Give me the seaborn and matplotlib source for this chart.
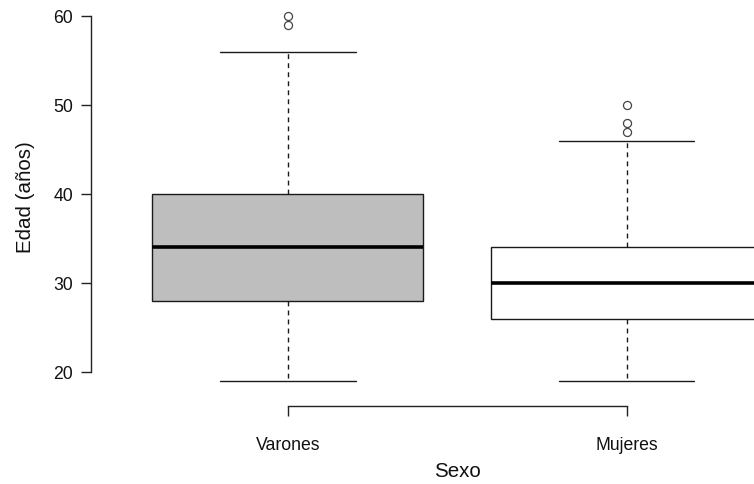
import matplotlib
matplotlib.use("Agg")
import matplotlib.pyplot as plt
import seaborn as sns
import pandas as pd

# Ages (years) by sex
categories = ["Varones", "Mujeres"]
edad_varones = [19, 22, 25, 28, 30, 32, 34, 36, 38, 40, 56, 59, 60]
edad_mujeres = [19, 21, 23, 25, 26, 27, 28, 29, 30, 31, 32, 33, 34, 46, 47, 48, 50]
box_colors = ["#bebebe", "#ffffff"]
y_ticks = [20, 30, 40, 50, 60]

df = pd.DataFrame({
    "Sexo": ["Varones"] * len(edad_varones) + ["Mujeres"] * len(edad_mujeres),
    "Edad": edad_varones + edad_mujeres,
})

sns.set_theme(style="white")
plt.rcParams["font.family"] = ["Liberation Sans", "DejaVu Sans"]

fig = plt.figure(figsize=(7.54, 4.84), dpi=100)
# The plotting region runs past the right edge of the canvas
ax = fig.add_axes([91 / 754, 1 - 395 / 484, (823 - 91) / 754, 395 / 484])

sns.boxplot(
    data=df, x="Sexo", y="Edad", order=categories, hue="Sexo",
    hue_order=categories, palette=box_colors, legend=False,
    width=0.8, linecolor="black", linewidth=1.0, whis=1.5,
    ax=ax,
    boxprops=dict(edgecolor="#1a1a1a", linewidth=1.0),
    medianprops=dict(color="black", linewidth=2.6),
    whiskerprops=dict(color="#1a1a1a", linewidth=1.0, linestyle=(0, (3.5, 3.0))),
    capprops=dict(color="#1a1a1a", linewidth=1.0),
    flierprops=dict(marker="o", markersize=5.8, markerfacecolor="none",
                    markeredgecolor="#444444", markeredgewidth=0.9),
)

ax.set_xlim(-0.581, 1.58)
ax.set_ylim(17.42, 61.8)
ax.set_yticks(y_ticks)
ax.set_yticklabels([str(t) for t in y_ticks])

for s in ["top", "right"]:
    ax.spines[s].set_visible(False)
ax.spines["left"].set_bounds(20, 60)
ax.spines["left"].set_color("#222222")
ax.spines["left"].set_linewidth(1.0)
ax.spines["bottom"].set_bounds(0, 1)
ax.spines["bottom"].set_position(("outward", 8))
ax.spines["bottom"].set_color("#222222")
ax.spines["bottom"].set_linewidth(1.0)

ax.tick_params(axis="y", direction="out", length=7, width=1.0, color="#222222",
               pad=6, labelsize=12.7, labelcolor="#111111", left=True)
ax.tick_params(axis="x", direction="out", length=7, width=1.0, color="#222222",
               pad=15, labelsize=12.7, labelcolor="#111111", bottom=True)

ax.set_xlabel("Sexo", fontsize=14.8, color="#111111", labelpad=6)
ax.set_ylabel("Edad (años)", fontsize=14.8, color="#111111", labelpad=13)
ax.grid(False)
ax.set_facecolor("white")

fig.savefig("out.png", dpi=100)
